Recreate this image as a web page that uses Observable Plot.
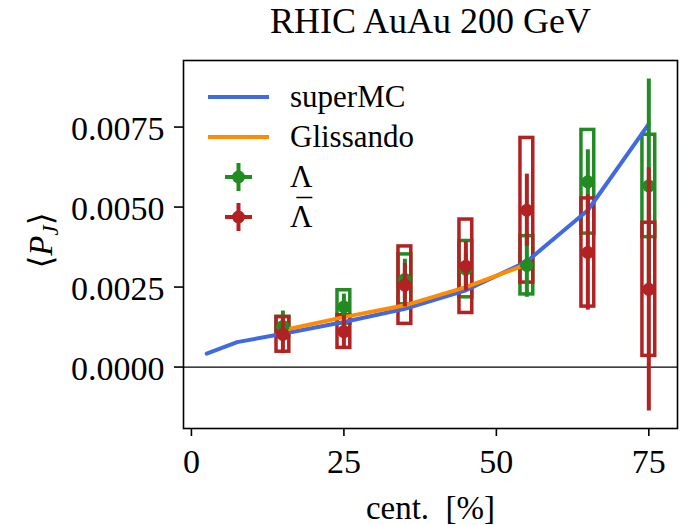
<!DOCTYPE html>
<html>
<head>
<meta charset="utf-8">
<script src="https://cdn.jsdelivr.net/npm/d3@7"></script>
<script src="https://cdn.jsdelivr.net/npm/@observablehq/plot@0.6"></script>
<style>
  body { margin: 0; background: #fff; }
  #chart { width: 682px; height: 525px; }
</style>
</head>
<body>
<div id="chart"></div>
<script>
// Model curves: global polarization vs centrality
const modelCent = [2.5, 7.5, 15, 25, 35, 45, 55, 65, 75];
const superMC = [0.00042, 0.00078, 0.00104, 0.00141, 0.00182, 0.0024, 0.0033, 0.0049, 0.0076];
const glissandoCent = [15, 25, 35, 45, 55];
const glissando = [0.00115, 0.00156, 0.00193, 0.0025, 0.00321];

// Measured points (value, statistical error, systematic error)
const dataCent = [15, 25, 35, 45, 55, 65, 75];
const lambdaVal = [0.00127, 0.00188, 0.00274, 0.00306, 0.00318, 0.00579, 0.00566];
const lambdaStat = [0.00048, 0.0004, 0.00063, 0.0005, 0.001, 0.001, 0.00334];
const lambdaSys = [0.0003, 0.00052, 0.00078, 0.00088, 0.00091, 0.00162, 0.0016];
const antiVal = [0.00102, 0.00111, 0.00256, 0.00315, 0.0049, 0.00358, 0.00243];
const antiStat = [0.0006, 0.0005, 0.00068, 0.00077, 0.00113, 0.0018, 0.0038];
const antiSys = [0.00054, 0.00051, 0.00121, 0.00146, 0.00226, 0.00169, 0.00208];

const xTicks = [0, 25, 50, 75];
const yTicks = [0, 0.0025, 0.005, 0.0075];

const colors = {superMC: "#4169e1", glissando: "#ff8c00", lambda: "#228b22", anti: "#b22222"};
const boxHalf = 1.05;  // half-width of systematic boxes, in centrality units
const xErr = 1.0;      // horizontal bar half-width

const font = "'Liberation Serif', 'DejaVu Serif', serif";

const table = (vals, stat, sys) => dataCent.map((c, i) => ({c, v: vals[i], stat: stat[i], sys: sys[i]}));
const lam = table(lambdaVal, lambdaStat, lambdaSys);
const anti = table(antiVal, antiStat, antiSys);
const smc = modelCent.map((c, i) => ({c, v: superMC[i]}));
const gli = glissandoCent.map((c, i) => ({c, v: glissando[i]}));

const sysBoxes = (d, color) => Plot.rect(d, {
  x1: r => r.c - boxHalf, x2: r => r.c + boxHalf,
  y1: r => r.v - r.sys, y2: r => r.v + r.sys,
  fill: "none", stroke: color, strokeWidth: 3.5
});
const points = (d, color) => [
  Plot.ruleX(d, {x: "c", y1: r => r.v - r.stat, y2: r => r.v + r.stat, stroke: color, strokeWidth: 4}),
  Plot.ruleY(d, {y: "v", x1: r => r.c - xErr, x2: r => r.c + xErr, stroke: color, strokeWidth: 4}),
  Plot.dot(d, {x: "c", y: "v", r: 6.5, fill: color, stroke: "none"})
];

const svg = Plot.plot({
  width: 682,
  height: 525,
  marginLeft: 183,
  marginRight: 5,
  marginTop: 60,
  marginBottom: 97,
  style: {fontFamily: font, fontSize: "34px", color: "black", background: "white"},
  x: {domain: [-1.3, 79.7]},
  y: {domain: [-0.00192, 0.00958]},
  marks: [
    Plot.ruleY([0], {stroke: "black", strokeWidth: 1.2}),
    sysBoxes(lam, colors.lambda),
    sysBoxes(anti, colors.anti),
    Plot.line(smc, {x: "c", y: "v", stroke: colors.superMC, strokeWidth: 4}),
    Plot.line(gli, {x: "c", y: "v", stroke: colors.glissando, strokeWidth: 4}),
    ...points(lam, colors.lambda),
    ...points(anti, colors.anti),
    Plot.frame({stroke: "black", strokeWidth: 1.6}),
    Plot.axisX({ticks: xTicks, tickSize: 8, tickPadding: 12, strokeWidth: 1.6, label: null, tickFormat: d3.format("d")}),
    Plot.axisY({ticks: yTicks, tickSize: 9, strokeWidth: 1.6, fill: "none", label: null}),
    Plot.axisY({ticks: yTicks, tickSize: 0, tickPadding: 19, stroke: "none", dy: 2, label: null, tickFormat: d3.format(".4f")}),
    Plot.text(["RHIC AuAu 200 GeV"], {text: d => d, frameAnchor: "top", lineAnchor: "middle", textAnchor: "middle", dy: -39, fontSize: 36}),
    Plot.text(["cent.\u2002[%]"], {text: d => d, frameAnchor: "bottom", lineAnchor: "middle", textAnchor: "middle", dy: 80, fontSize: 33}),
    Plot.text(["\u27e8PJ\u27e9"], {text: d => d, frameAnchor: "left", lineAnchor: "middle", textAnchor: "middle", dx: -142, dy: -4, rotate: -90, fontSize: 33})
  ]
});

// Italic P with subscript J for the y-axis label
d3.select(svg).selectAll("text").filter(function () { return this.textContent === "\u27e8PJ\u27e9"; })
  .each(function () {
    const t = d3.select(this);
    t.text(null);
    t.append("tspan").text("\u27e8");
    t.append("tspan").attr("font-style", "italic").text("P");
    t.append("tspan").attr("font-style", "italic").attr("font-size", "23px").attr("dy", "6").text("J");
    t.append("tspan").attr("dy", "-6").text("\u27e9");
  });

// Legend
const root = d3.select(svg);
const lg = root.append("g").attr("font-family", font).attr("font-size", 31)
  .attr("fill", "black").attr("text-anchor", "start");
const rows = [
  {label: "superMC", color: colors.superMC, kind: "line"},
  {label: "Glissando", color: colors.glissando, kind: "line"},
  {label: "\u039b", color: colors.lambda, kind: "point"},
  {label: "\u039b", color: colors.anti, kind: "point", bar: true}
];
rows.forEach((r, i) => {
  const y = 97 + i * 40;
  if (r.kind === "line") {
    lg.append("line").attr("x1", 208).attr("x2", 269).attr("y1", y).attr("y2", y)
      .attr("stroke", r.color).attr("stroke-width", 4);
  } else {
    lg.append("line").attr("x1", 225).attr("x2", 252).attr("y1", y).attr("y2", y)
      .attr("stroke", r.color).attr("stroke-width", 4);
    lg.append("line").attr("x1", 238.5).attr("x2", 238.5).attr("y1", y - 14).attr("y2", y + 14)
      .attr("stroke", r.color).attr("stroke-width", 4);
    lg.append("circle").attr("cx", 238.5).attr("cy", y).attr("r", 6.5).attr("fill", r.color);
  }
  const t = lg.append("text").attr("x", 290).attr("y", y).attr("dy", "0.32em").text(r.label);
  // bar over the anti-Lambda symbol
  if (r.bar) t.append("tspan").attr("dx", -16).attr("dy", -6).text("\u00af");
});

document.getElementById("chart").appendChild(svg);
</script>
</body>
</html>
